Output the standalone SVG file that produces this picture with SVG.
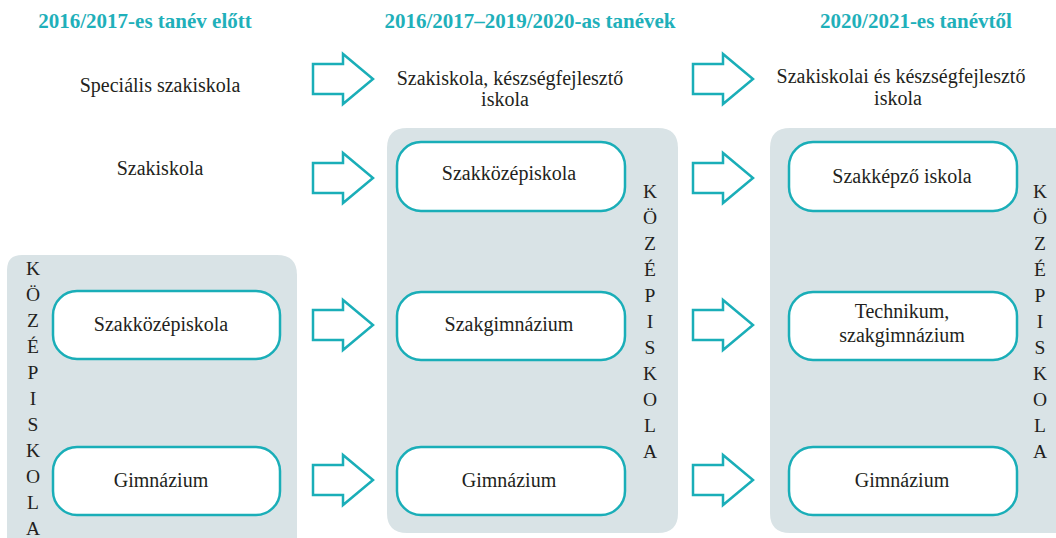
<svg xmlns="http://www.w3.org/2000/svg" width="1056" height="538" viewBox="0 0 1056 538" font-family="'Liberation Serif', serif">
<style>
.panel{fill:#d9e3e6;}
.node rect{fill:#ffffff;stroke:#1aaeb8;stroke-width:2.5;}
.arrow{fill:none;stroke:#1aaeb8;stroke-width:2.5;stroke-linejoin:miter;}
text{fill:#231f20;}
.t{font-size:20px;text-anchor:middle;}
.title{font-size:21px;font-weight:bold;fill:#1fb0ba;text-anchor:middle;}
.v{font-size:19.5px;text-anchor:middle;}
</style>
<rect width="1056" height="538" fill="#ffffff"/>
<g id="panels">
<path class="panel" d="M7,560 V270 Q7,255 22,255 H277 Q297,255 297,275 V560 Z"/>
<path class="panel" d="M387,148 Q387,128 407,128 H658 Q678,128 678,148 V513 Q678,533 658,533 H407 Q387,533 387,513 Z"/>
<path class="panel" d="M770,148 Q770,128 790,128 H1070 V533 H790 Q770,533 770,513 Z"/>
</g>
<g id="titles">
<text class="title" x="145" y="28">2016/2017-es tanév előtt</text>
<text class="title" x="530" y="28">2016/2017–2019/2020-as tanévek</text>
<text class="title" x="916" y="28">2020/2021-es tanévtől</text>
</g>
<g id="col1-specialis"><text class="t" x="160" y="92">Speciális szakiskola</text></g>
<g id="col1-szakiskola"><text class="t" x="160" y="175">Szakiskola</text></g>
<g id="col1-szakkozep" class="node"><rect x="53" y="291" width="227" height="68" rx="24"/><text class="t" x="161" y="331">Szakközépiskola</text></g>
<g id="col1-gimn" class="node"><rect x="53" y="447" width="227" height="68" rx="24"/><text class="t" x="161" y="487">Gimnázium</text></g>
<g id="col1-label">
<text class="v" x="33" y="275">K</text><text class="v" x="33" y="301">Ö</text><text class="v" x="33" y="327">Z</text><text class="v" x="33" y="353">É</text><text class="v" x="33" y="379">P</text><text class="v" x="33" y="405">I</text><text class="v" x="33" y="431">S</text><text class="v" x="33" y="457">K</text><text class="v" x="33" y="483">O</text><text class="v" x="33" y="509">L</text><text class="v" x="33" y="535">A</text>
</g>
<g id="col2-szakiskola"><text class="t" x="510" y="85">Szakiskola, készségfejlesztő</text><text class="t" x="505" y="106">iskola</text></g>
<g id="col2-szakkozep" class="node"><rect x="397" y="142" width="228" height="69" rx="24"/><text class="t" x="509" y="180">Szakközépiskola</text></g>
<g id="col2-szakgimn" class="node"><rect x="397" y="292" width="228" height="68" rx="24"/><text class="t" x="509" y="331">Szakgimnázium</text></g>
<g id="col2-gimn" class="node"><rect x="397" y="447" width="228" height="68" rx="24"/><text class="t" x="509" y="487">Gimnázium</text></g>
<g id="col2-label">
<text class="v" x="650" y="198">K</text><text class="v" x="650" y="224">Ö</text><text class="v" x="650" y="250">Z</text><text class="v" x="650" y="276">É</text><text class="v" x="650" y="302">P</text><text class="v" x="650" y="328">I</text><text class="v" x="650" y="354">S</text><text class="v" x="650" y="380">K</text><text class="v" x="650" y="406">O</text><text class="v" x="650" y="432">L</text><text class="v" x="650" y="458">A</text>
</g>
<g id="col3-szakiskola"><text class="t" x="901" y="83">Szakiskolai és készségfejlesztő</text><text class="t" x="898" y="105">iskola</text></g>
<g id="col3-szakkepzo" class="node"><rect x="789" y="142" width="228" height="69" rx="24"/><text class="t" x="902" y="183">Szakképző iskola</text></g>
<g id="col3-technikum" class="node"><rect x="789" y="292" width="228" height="68" rx="24"/><text class="t" x="902" y="318">Technikum,</text><text class="t" x="902" y="342">szakgimnázium</text></g>
<g id="col3-gimn" class="node"><rect x="789" y="447" width="228" height="68" rx="24"/><text class="t" x="902" y="487">Gimnázium</text></g>
<g id="col3-label">
<text class="v" x="1040" y="198">K</text><text class="v" x="1040" y="224">Ö</text><text class="v" x="1040" y="250">Z</text><text class="v" x="1040" y="276">É</text><text class="v" x="1040" y="302">P</text><text class="v" x="1040" y="328">I</text><text class="v" x="1040" y="354">S</text><text class="v" x="1040" y="380">K</text><text class="v" x="1040" y="406">O</text><text class="v" x="1040" y="432">L</text><text class="v" x="1040" y="458">A</text>
</g>
<g id="connectors">
<path class="arrow" d="M313,64 H343 V54 L373,79 L343,104 V94 H313 Z"/>
<path class="arrow" d="M313,163 H343 V153 L373,178 L343,203 V193 H313 Z"/>
<path class="arrow" d="M313,310 H343 V300 L373,325 L343,350 V340 H313 Z"/>
<path class="arrow" d="M313,465 H343 V455 L373,480 L343,505 V495 H313 Z"/>
<path class="arrow" d="M693,64 H723 V54 L753,79 L723,104 V94 H693 Z"/>
<path class="arrow" d="M693,163 H723 V153 L753,178 L723,203 V193 H693 Z"/>
<path class="arrow" d="M693,310 H723 V300 L753,325 L723,350 V340 H693 Z"/>
<path class="arrow" d="M693,465 H723 V455 L753,480 L723,505 V495 H693 Z"/>
</g>
</svg>
